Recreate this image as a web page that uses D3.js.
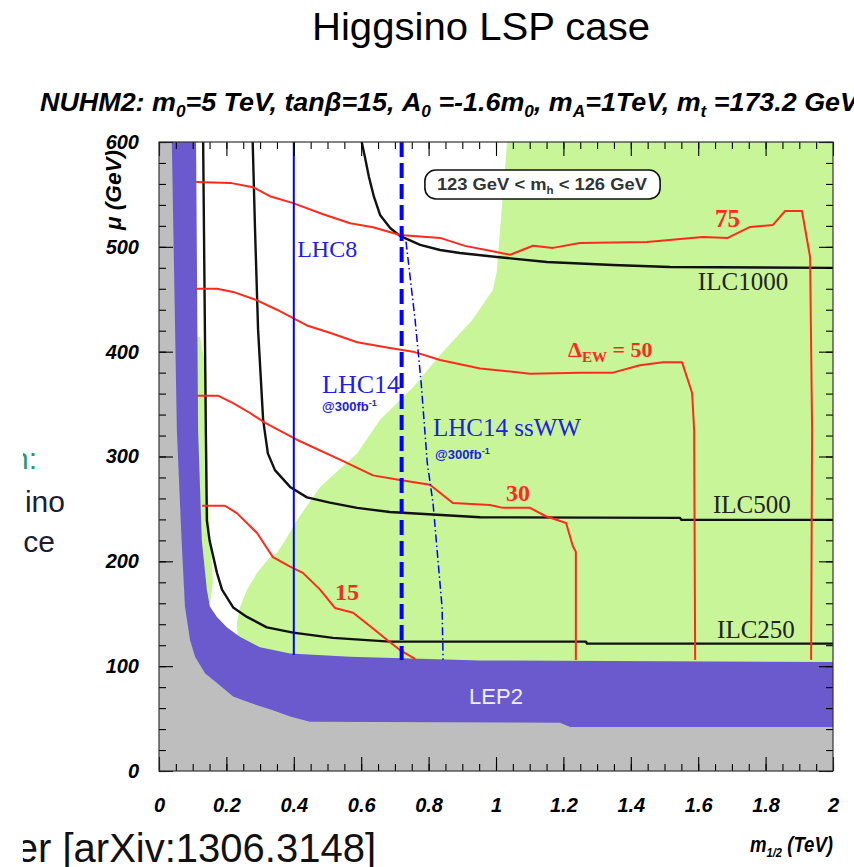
<!DOCTYPE html>
<html>
<head>
<meta charset="utf-8">
<script src="https://cdn.jsdelivr.net/npm/d3@7"></script>
<style>
  html, body { margin: 0; padding: 0; background: #fff; }
  svg { display: block; }
</style>
</head>
<body>
<svg id="chart" width="854" height="867"></svg>
<script>
// ---------------- data (m1/2 in TeV, mu in GeV) ----------------
const xTickValues = [0, 0.2, 0.4, 0.6, 0.8, 1, 1.2, 1.4, 1.6, 1.8, 2];
const xTickLabels = ["0", "0.2", "0.4", "0.6", "0.8", "1", "1.2", "1.4", "1.6", "1.8", "2"];
const yTickValues = [0, 100, 200, 300, 400, 500, 600];
const yTickLabels = ["0", "100", "200", "300", "400", "500", "600"];

// theoretically excluded region (grey): upper/right edge
const greyEdge = [[0.038,600],[0.053,325],[0.067,220],[0.077,157],[0.092,125],[0.107,109],[0.137,93],
  [0.172,84],[0.22,71],[0.27,65],[0.338,58],[0.389,52],[0.448,47],[1.19,46],[1.22,42],[2,42]];
// LEP2 chargino limit (purple): upper/right edge
const lep2Edge = [[0.110,600],[0.116,325],[0.127,220],[0.142,173],[0.151,157],[0.172,147],[0.202,137],
  [0.240,128],[0.300,118],[0.389,112],[0.567,109],[0.953,105.5],[2,104]];
// 123 GeV < mh < 126 GeV region (green): left edge of the main part
const higgsEdge = [[1.033,600],[1.012,516],[1.003,478],[0.991,459],[0.929,430],[0.840,399],[0.754,366],
  [0.656,335],[0.588,303],[0.478,271],[0.409,239],[0.380,223],[0.350,208],[0.329,204],[0.291,189],
  [0.261,173],[0.240,156],[0.231,141],[0.234,120],[0.234,0]];
// thin green sliver along the LEP2 edge
const higgsStrip = [[0.100,414],[0.122,414],[0.141,380],[0.142,325],[0.146,260],[0.153,220],[0.160,180],
  [0.152,160],[0.100,160]];

// ILC reach contours
const ilc250 = [[0.131,600],[0.139,325],[0.142,239],[0.150,220],[0.172,189],[0.187,173],[0.220,156],
  [0.261,147],[0.320,137],[0.398,132],[0.516,127],[0.685,123.4],[1.267,123.4],[1.270,121.5],[2,121.5]];
const ilc500 = [[0.278,600],[0.285,516],[0.294,421],[0.309,335],[0.323,303],[0.344,287],[0.389,271],
  [0.439,261],[0.507,256],[0.588,251],[0.685,247],[0.953,242],[1.546,241.5],[1.550,239.5],[2,239.5]];
const ilc1000 = [[0.6015,600],[0.611,585.7],[0.623,566.6],[0.638,547.6],[0.656,530.4],[0.686,518],
  [0.715,510.4],[0.775,501.8],[0.834,497],[0.893,494.1],[1.003,490.3],[1.151,485.5],[1.347,482.7],
  [1.516,480.8],[2,479.9]];

// electroweak fine-tuning contours
const dew15 = [[0.128,253],[0.196,253],[0.231,246],[0.291,227],[0.338,204],[0.389,195],[0.427,189],
  [0.478,173],[0.522,155.5],[0.576,151],[0.635,136],[0.677,125],[0.715,115.4],[0.760,107]];
const dew30 = [[0.113,358],[0.175,358],[0.220,351],[0.270,341.5],[0.315,332],[0.409,316],[0.537,297],
  [0.635,282],[0.715,277.6],[0.804,273],[0.872,255.7],[0.982,253.7],[1.021,251],[1.101,251],
  [1.148,243],[1.208,236.6],[1.228,214.6],[1.237,209],[1.237,106]];
const dew50 = [[0.110,460],[0.172,460],[0.220,457],[0.291,449],[0.350,440],[0.398,432],[0.439,425],
  [0.507,418],[0.588,409],[0.685,403.5],[0.754,400],[0.834,392],[0.953,384],[1.101,379],[1.249,380],
  [1.347,380],[1.427,387],[1.496,390],[1.552,390],[1.582,360.6],[1.588,325],[1.591,106]];
const dew75 = [[0.110,561.9],[0.211,561],[0.279,556.9],[0.329,548.3],[0.398,541.7],[0.487,531.1],
  [0.567,522.5],[0.635,518.7],[0.715,511.3],[0.834,508.5],[0.908,500.9],[0.982,496.3],[1.042,492.4],
  [1.110,501],[1.169,499],[1.249,503.7],[1.448,504.6],[1.614,509.4],[1.688,508.5],[1.754,519],
  [1.822,520.9],[1.858,534.2],[1.908,534.2],[1.932,490.3],[1.938,325.3],[1.935,106]];

// LHC reach
const lhc8 = [[0.40,600],[0.40,110.7]];
const lhc14 = [[0.72,600],[0.72,106]];
const lhc14ssWW = [[0.733,505],[0.760,430],[0.778,370],[0.796,294],[0.813,256],[0.840,156],[0.843,106]];

// ---------------- layout ----------------
const svg = d3.select("#chart");
const plot = { left: 159, right: 833, top: 142, bottom: 771 };
const x = d3.scaleLinear().domain([0, 2]).range([plot.left, plot.right]);
const y = d3.scaleLinear().domain([0, 600]).range([plot.bottom, plot.top]);

const SANS = "'Liberation Sans', Arial, Helvetica, sans-serif";
const SERIF = "'Liberation Serif', 'Times New Roman', serif";

svg.append("rect").attr("width", 854).attr("height", 867).attr("fill", "#fff");

const defs = svg.append("defs");
defs.append("clipPath").attr("id", "plotClip")
  .append("rect").attr("x", plot.left).attr("y", plot.top)
  .attr("width", plot.right - plot.left).attr("height", plot.bottom - plot.top);
defs.append("clipPath").attr("id", "slideClip")
  .append("rect").attr("x", 23).attr("y", 0).attr("width", 831).attr("height", 867);

// slide title
svg.append("text")
  .attr("x", 312).attr("y", 40)
  .attr("textLength", 338).attr("lengthAdjust", "spacingAndGlyphs")
  .style("font-family", SANS).style("font-size", "38px").attr("fill", "#000")
  .text("Higgsino LSP case");

// clipped slide text at the left margin
const side = svg.append("g").attr("clip-path", "url(#slideClip)")
  .style("font-family", SANS).style("font-size", "30px");
side.append("text").attr("x", 37).attr("y", 469).attr("text-anchor", "end").attr("fill", "#2a9a6a").text("n:");
side.append("text").attr("x", 65).attr("y", 512).attr("text-anchor", "end").attr("fill", "#1c1c34").text("ino");
side.append("text").attr("x", 55).attr("y", 552).attr("text-anchor", "end").attr("fill", "#1c1c34").text("ce");
side.append("text").attr("x", 376).attr("y", 862).attr("text-anchor", "end")
  .style("font-size", "40px").attr("fill", "#111").text("er [arXiv:1306.3148]");

// model parameters header
const head = svg.append("text")
  .attr("x", 40).attr("y", 111)
  .attr("textLength", 818).attr("lengthAdjust", "spacingAndGlyphs")
  .style("font-family", SANS).style("font-size", "25px")
  .style("font-weight", "bold").style("font-style", "italic").attr("fill", "#000");
const headParts = [
  ["NUHM2: m", 0], ["0", 1], ["=5 TeV, tanβ=15, A", -1], ["0", 1], [" =-1.6m", -1], ["0", 1],
  [", m", -1], ["A", 1], ["=1TeV, m", -1], ["t", 1], [" =173.2 GeV", -1]
];
headParts.forEach(([t, s]) => {
  const sp = head.append("tspan").text(t);
  if (s === 1) sp.attr("dy", 6).style("font-size", "16px");
  if (s === -1) sp.attr("dy", -6);
});

// ---------------- regions ----------------
const area = d3.line().x(d => x(d[0])).y(d => y(d[1]));
const regions = svg.append("g").attr("clip-path", "url(#plotClip)");

regions.append("path")
  .attr("d", area(higgsEdge.concat([[2, 0], [2, 600]])) + "Z")
  .attr("fill", "#c8f597");
regions.append("path")
  .attr("d", area(higgsStrip) + "Z")
  .attr("fill", "#c8f597");
regions.append("path")
  .attr("d", area([[0, 0], [0, 600]].concat(lep2Edge, [[2, 0]])) + "Z")
  .attr("fill", "#6a5acd");
regions.append("path")
  .attr("d", area([[0, 0], [0, 600]].concat(greyEdge, [[2, 0]])) + "Z")
  .attr("fill", "#bebebe");

// ---------------- contours ----------------
const line = d3.line().x(d => x(d[0])).y(d => y(d[1]));
const curves = svg.append("g").attr("clip-path", "url(#plotClip)").attr("fill", "none");

[ilc250, ilc500, ilc1000].forEach(c => {
  curves.append("path").attr("d", line(c))
    .attr("stroke", "#111").attr("stroke-width", 2.4).attr("stroke-linejoin", "round");
});
[dew15, dew30, dew50, dew75].forEach(c => {
  curves.append("path").attr("d", line(c))
    .attr("stroke", "#ff2a1c").attr("stroke-width", 2).attr("stroke-linejoin", "round");
});
curves.append("path").attr("d", line(lhc8)).attr("stroke", "#0000ff").attr("stroke-width", 2);
curves.append("path").attr("d", line(lhc14)).attr("stroke", "#0000ff").attr("stroke-width", 4)
  .attr("stroke-dasharray", "15 6");
curves.append("path").attr("d", line(lhc14ssWW)).attr("stroke", "#0000ff").attr("stroke-width", 1.5)
  .attr("stroke-dasharray", "8 3 1.5 3");

// ---------------- labels ----------------
const lab = svg.append("g");
function addText(g, px, mu, txt, opts) {
  const t = g.append("text").attr("x", x(px)).attr("y", y(mu))
    .style("font-family", opts.font || SERIF).style("font-size", opts.size + "px")
    .attr("fill", opts.color || "#000");
  if (opts.weight) t.style("font-weight", opts.weight);
  if (opts.anchor) t.attr("text-anchor", opts.anchor);
  t.text(txt);
  return t;
}
addText(lab, 0.41, 490, "LHC8", { size: 24, color: "#2020e0" });
addText(lab, 0.484, 360.6, "LHC14", { size: 26, color: "#2020e0" });
const fb1 = addText(lab, 0.484, 343.4, "@300fb", { size: 13, color: "#2020e0", font: SANS, weight: "bold" });
fb1.append("tspan").attr("dy", -5).style("font-size", "9px").text("-1");
addText(lab, 0.813, 319.6, "LHC14 ssWW", { size: 25, color: "#2020e0" });
const fb2 = addText(lab, 0.819, 297.6, "@300fb", { size: 13, color: "#2020e0", font: SANS, weight: "bold" });
fb2.append("tspan").attr("dy", -5).style("font-size", "9px").text("-1");

addText(lab, 1.599, 459, "ILC1000", { size: 25, color: "#222" });
addText(lab, 1.644, 246, "ILC500", { size: 25, color: "#222" });
addText(lab, 1.656, 127, "ILC250", { size: 25, color: "#222" });

addText(lab, 1.650, 519, "75", { size: 25, color: "#ff2a1c", weight: "bold" });
addText(lab, 1.030, 257.6, "30", { size: 24, color: "#ff2a1c", weight: "bold" });
addText(lab, 0.522, 163, "15", { size: 24, color: "#ff2a1c", weight: "bold" });
const dl = addText(lab, 1.214, 395, "Δ", { size: 22, color: "#ff2a1c", weight: "bold" });
dl.append("tspan").attr("dy", 5).style("font-size", "15px").text("EW");
dl.append("tspan").attr("dy", -5).text(" = 50");

addText(lab, 1.0, 64, "LEP2", { size: 22, color: "#eeeeff", font: SANS, anchor: "middle" });

// Higgs mass window box
const bx0 = 0.789, bx1 = 1.487, by0 = 573.3, by1 = 545.6;
lab.append("rect")
  .attr("x", x(bx0)).attr("y", y(by0))
  .attr("width", x(bx1) - x(bx0)).attr("height", y(by1) - y(by0))
  .attr("rx", 11).attr("ry", 11)
  .attr("fill", "#fff").attr("stroke", "#111").attr("stroke-width", 1.6);
const hb = lab.append("text")
  .attr("x", x(bx0) + 12).attr("y", y(by1) - 9)
  .attr("textLength", 210).attr("lengthAdjust", "spacingAndGlyphs")
  .style("font-family", SANS).style("font-size", "16px").style("font-weight", "bold")
  .attr("fill", "#333");
hb.append("tspan").text("123 GeV < m");
hb.append("tspan").attr("dy", 4).style("font-size", "10px").text("h");
hb.append("tspan").attr("dy", -4).text(" < 126 GeV");

// ---------------- axes ----------------
const axes = svg.append("g");
const xMinor = d3.range(0, 2.0001, 0.05);
const yMinor = d3.range(0, 600.01, 20);

function styleAxis(g) {
  g.select(".domain").remove();
  g.selectAll(".tick line").attr("stroke", "#000").attr("stroke-width", 1.1);
  g.selectAll("text")
    .style("font-family", SANS).style("font-size", "20px")
    .style("font-weight", "bold").style("font-style", "italic").attr("fill", "#000");
}

axes.append("g").attr("transform", `translate(0,${plot.bottom})`)
  .call(d3.axisBottom(x).tickValues(xMinor).tickSize(-7).tickFormat("")).call(styleAxis);
axes.append("g").attr("transform", `translate(0,${plot.bottom})`)
  .call(d3.axisBottom(x).tickValues(xTickValues).tickSize(-14).tickPadding(27)
    .tickFormat((d, i) => xTickLabels[i])).call(styleAxis);
axes.append("g").attr("transform", `translate(0,${plot.top})`)
  .call(d3.axisTop(x).tickValues(xMinor).tickSize(-7).tickFormat("")).call(styleAxis);
axes.append("g").attr("transform", `translate(0,${plot.top})`)
  .call(d3.axisTop(x).tickValues(xTickValues).tickSize(-14).tickFormat("")).call(styleAxis);

axes.append("g").attr("transform", `translate(${plot.left},0)`)
  .call(d3.axisLeft(y).tickValues(yMinor).tickSize(-7).tickFormat("")).call(styleAxis);
axes.append("g").attr("transform", `translate(${plot.left},0)`)
  .call(d3.axisLeft(y).tickValues(yTickValues).tickSize(-14).tickPadding(20)
    .tickFormat((d, i) => yTickLabels[i])).call(styleAxis);
axes.append("g").attr("transform", `translate(${plot.right},0)`)
  .call(d3.axisRight(y).tickValues(yMinor).tickSize(-7).tickFormat("")).call(styleAxis);
axes.append("g").attr("transform", `translate(${plot.right},0)`)
  .call(d3.axisRight(y).tickValues(yTickValues).tickSize(-14).tickFormat("")).call(styleAxis);

axes.append("rect")
  .attr("x", plot.left).attr("y", plot.top)
  .attr("width", plot.right - plot.left).attr("height", plot.bottom - plot.top)
  .attr("fill", "none").attr("stroke", "#333").attr("stroke-width", 1.2);

// axis titles
svg.append("text")
  .attr("transform", "translate(121,190) rotate(-90)")
  .attr("text-anchor", "middle")
  .attr("textLength", 80).attr("lengthAdjust", "spacingAndGlyphs")
  .style("font-family", SANS).style("font-size", "22px")
  .style("font-weight", "bold").style("font-style", "italic")
  .text("μ (GeV)");
const xt = svg.append("text")
  .attr("transform", "translate(750,852) scale(0.93,1.08)")
  .style("font-family", SANS).style("font-size", "20px")
  .style("font-weight", "bold").style("font-style", "italic");
xt.append("tspan").text("m");
xt.append("tspan").attr("dy", 5).style("font-size", "12px").text("1/2");
xt.append("tspan").attr("dy", -5).text(" (TeV)");
</script>
</body>
</html>
